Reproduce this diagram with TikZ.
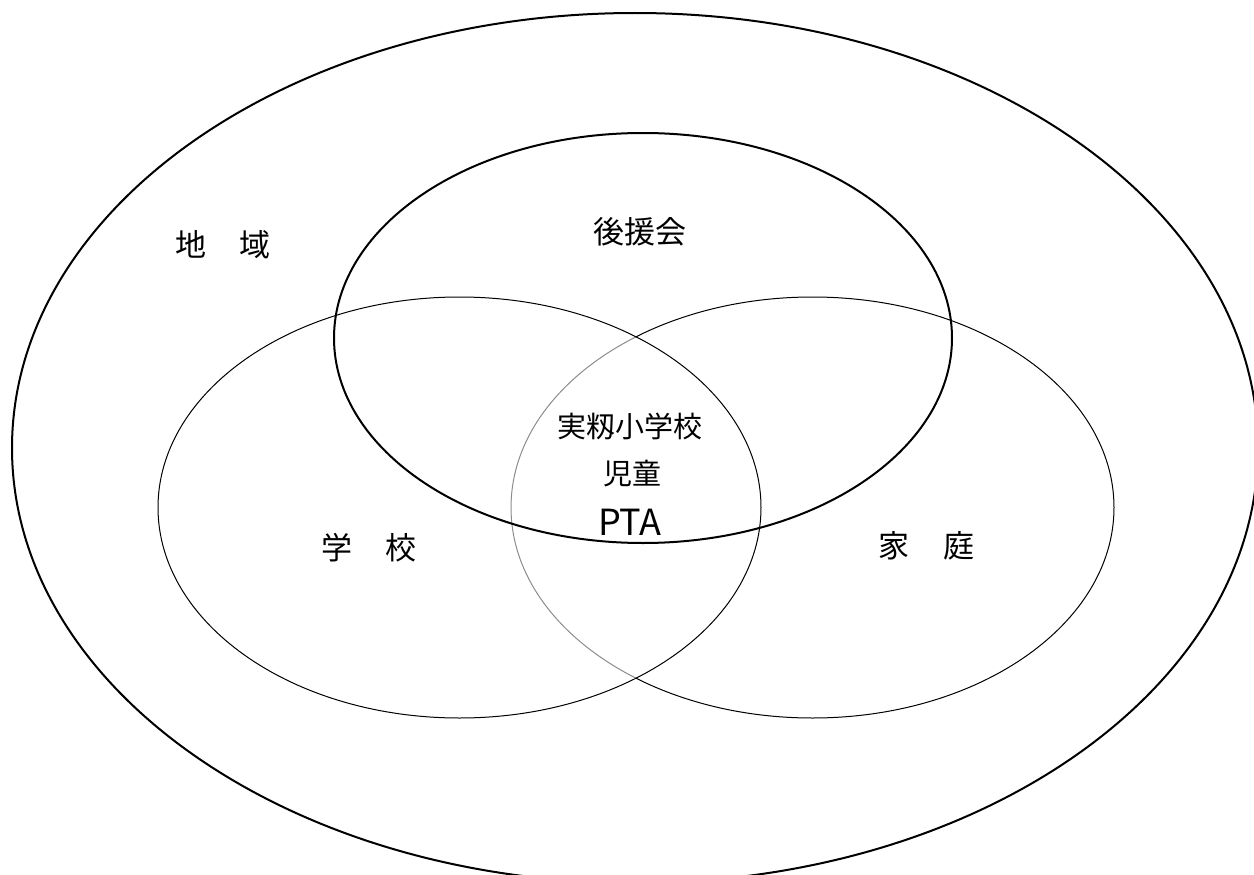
\documentclass[tikz,border=0pt]{standalone}
\usepackage{fontspec}
\setmainfont{Noto Sans CJK JP}
\usetikzlibrary{shapes.geometric}
\tikzset{
  ring/.style={ellipse, draw=black, inner sep=0pt, outer sep=0pt},
  thickring/.style={ring, line width=2pt},
  thinring/.style={ring, line width=1pt},
  lbl/.style={inner sep=0pt, font=\fontsize{31}{31}\selectfont},
  centerlbl/.style={inner sep=0pt, font=\fontsize{29}{29}\selectfont},
}
\begin{document}
\begin{tikzpicture}[x=1pt, y=-1pt]
\useasboundingbox (0,0) rectangle (1254,875);
\clip (0,0) rectangle (1254,875);
% outer region
\node[thickring, minimum width=1246pt, minimum height=870pt] (outer) at (635,448) {};
% right ellipse (家庭)
\node[thinring, minimum width=603pt, minimum height=421pt] (home) at (812.5,507.5) {};
% left ellipse (学校), semi-transparent white fill lightens the right ellipse inside it
\node[thinring, fill=white, fill opacity=0.55, minimum width=603pt, minimum height=421pt] (school) at (459.5,507.5) {};
% top ellipse (後援会)
\node[thickring, minimum width=618pt, minimum height=410pt] (support) at (643,338) {};
% labels
\node[lbl] (region) at (223,245) {地\hspace{34pt}域};
\node[lbl] (supportlbl) at (640,232) {後援会};
\node[lbl] (schoollbl) at (369,548) {学\hspace{34pt}校};
\node[lbl] (homelbl) at (926.5,546) {家\hspace{34pt}庭};
\node[centerlbl] (nameA) at (630,426) {実籾小学校};
\node[centerlbl] (nameB) at (632,474) {児童};
\node[inner sep=0pt, font=\fontsize{36}{36}\selectfont] (nameC) at (630,522) {PTA};
\end{tikzpicture}
\end{document}
